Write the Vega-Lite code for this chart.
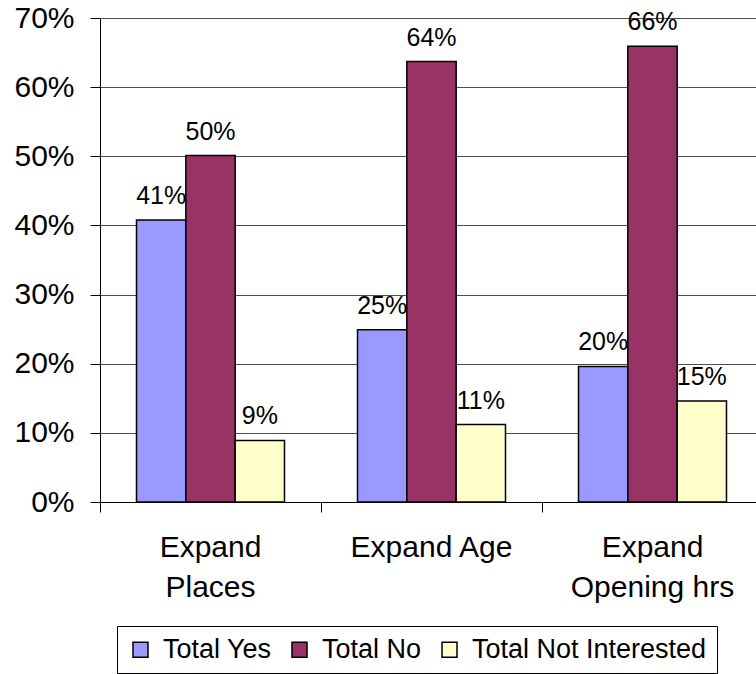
{
  "$schema": "https://vega.github.io/schema/vega-lite/v6.json",
  "autosize": "none",
  "padding": {"left": 100, "top": 18, "right": 0, "bottom": 172},
  "width": 663,
  "height": 484,
  "background": "white",
  "config": {
    "font": "Liberation Sans",
    "view": {"stroke": null}
  },
  "datasets": {
    "bars": [
      {"category": "Expand Places", "series": "Total Yes", "value": 0.408},
      {"category": "Expand Places", "series": "Total No", "value": 0.501},
      {"category": "Expand Places", "series": "Total Not Interested", "value": 0.089},
      {"category": "Expand Age", "series": "Total Yes", "value": 0.249},
      {"category": "Expand Age", "series": "Total No", "value": 0.637},
      {"category": "Expand Age", "series": "Total Not Interested", "value": 0.112},
      {"category": "Expand Opening hrs", "series": "Total Yes", "value": 0.196},
      {"category": "Expand Opening hrs", "series": "Total No", "value": 0.659},
      {"category": "Expand Opening hrs", "series": "Total Not Interested", "value": 0.146}
    ],
    "cats": [
      {"category": "Expand Places", "label": "Expand\nPlaces"},
      {"category": "Expand Age", "label": "Expand Age"},
      {"category": "Expand Opening hrs", "label": "Expand\nOpening hrs"}
    ]
  },
  "layer": [
    {
      "data": {"name": "bars"},
      "mark": {"type": "bar", "stroke": "black", "strokeWidth": 1.5},
      "encoding": {
        "x": {
          "field": "category",
          "type": "nominal",
          "sort": ["Expand Places", "Expand Age", "Expand Opening hrs"],
          "scale": {"paddingInner": 0, "paddingOuter": 0},
          "axis": {
            "title": null,
            "labels": false,
            "tickBand": "extent",
            "tickSize": 10,
            "tickColor": "black",
            "domainColor": "black",
            "grid": false
          }
        },
        "xOffset": {
          "field": "series",
          "type": "nominal",
          "sort": ["Total Yes", "Total No", "Total Not Interested"],
          "scale": {"paddingInner": 0, "paddingOuter": 0.74}
        },
        "y": {
          "field": "value",
          "type": "quantitative",
          "scale": {"domain": [0, 0.7], "nice": false},
          "axis": {
            "title": null,
            "format": ".0%",
            "values": [0, 0.1, 0.2, 0.3, 0.4, 0.5, 0.6, 0.7],
            "labelFontSize": 30,
            "labelColor": "black",
            "labelPadding": 16,
            "tickSize": 10,
            "tickColor": "black",
            "domainColor": "black",
            "gridColor": "#4d4d4d",
            "gridWidth": 1
          }
        },
        "color": {
          "field": "series",
          "type": "nominal",
          "sort": ["Total Yes", "Total No", "Total Not Interested"],
          "scale": {
            "domain": ["Total Yes", "Total No", "Total Not Interested"],
            "range": ["#9999FF", "#993366", "#FFFFCC"]
          },
          "legend": {
            "title": null,
            "orient": "none",
            "legendX": 17,
            "legendY": 608,
            "direction": "horizontal",
            "symbolType": "square",
            "symbolSize": 225,
            "symbolStrokeColor": "black",
            "symbolStrokeWidth": 1.5,
            "labelFontSize": 27,
            "labelColor": "black",
            "labelOffset": 9,
            "columnPadding": 14,
            "strokeColor": "black",
            "padding": 10,
            "labelLimit": 400
          }
        }
      }
    },
    {
      "data": {"name": "bars"},
      "mark": {"type": "text", "baseline": "bottom", "dy": -11, "fontSize": 25, "color": "black"},
      "encoding": {
        "x": {"field": "category", "type": "nominal", "sort": ["Expand Places", "Expand Age", "Expand Opening hrs"]},
        "xOffset": {"field": "series", "type": "nominal", "sort": ["Total Yes", "Total No", "Total Not Interested"]},
        "y": {"field": "value", "type": "quantitative"},
        "text": {"field": "value", "type": "quantitative", "format": ".0%"}
      }
    },
    {
      "data": {"name": "cats"},
      "mark": {"type": "text", "baseline": "top", "dy": 31, "fontSize": 30, "lineHeight": 40, "lineBreak": "\n", "color": "black"},
      "encoding": {
        "x": {"field": "category", "type": "nominal", "sort": ["Expand Places", "Expand Age", "Expand Opening hrs"]},
        "y": {"datum": 0, "type": "quantitative"},
        "text": {"field": "label", "type": "nominal"}
      }
    }
  ]
}
